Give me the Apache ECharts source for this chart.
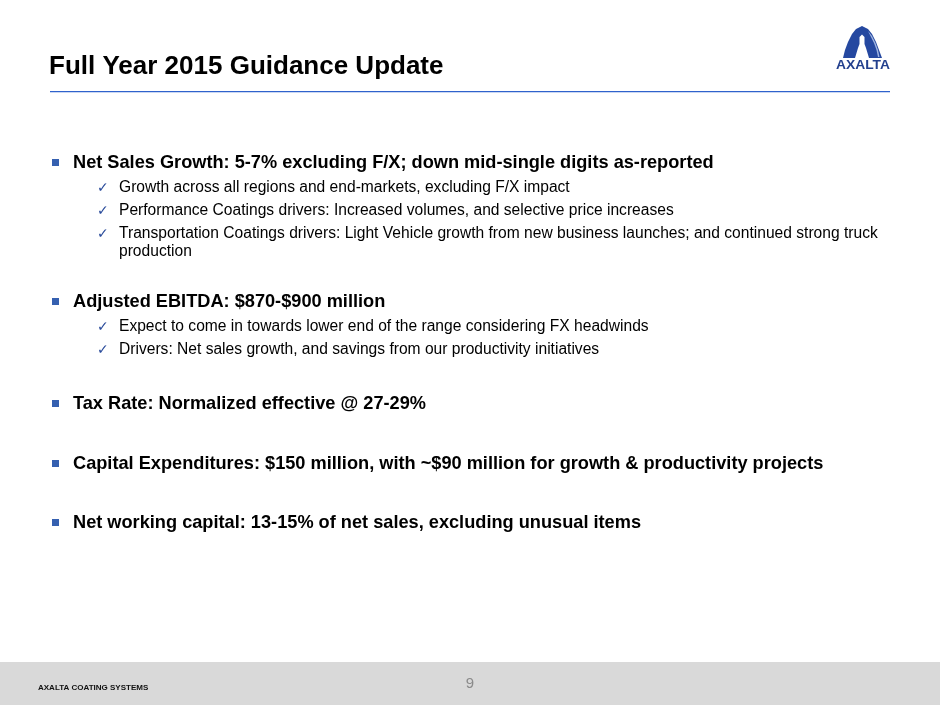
<!DOCTYPE html>
<html>
<head>
<meta charset="utf-8">
<title>Full Year 2015 Guidance Update</title>
<script src="https://cdn.jsdelivr.net/npm/echarts@6/dist/echarts.min.js"></script>
<style>
  html, body { margin: 0; padding: 0; background: #fff; }
  #main { width: 940px; height: 705px; }
</style>
</head>
<body>
<div id="main"></div>
<script>
// slide text
const title = 'Full Year 2015 Guidance Update';
const headings = [
  'Net Sales Growth: 5-7% excluding F/X; down mid-single digits as-reported',
  'Adjusted EBITDA: $870-$900 million',
  'Tax Rate: Normalized effective @ 27-29%',
  'Capital Expenditures: $150 million, with ~$90 million for growth & productivity projects',
  'Net working capital: 13-15% of net sales, excluding unusual items'
];
const netSalesItems = [
  'Growth across all regions and end-markets, excluding F/X impact',
  'Performance Coatings drivers: Increased volumes, and selective price increases',
  'Transportation Coatings drivers: Light Vehicle growth from new business launches; and continued strong truck\nproduction'
];
const ebitdaItems = [
  'Expect to come in towards lower end of the range considering FX headwinds',
  'Drivers: Net sales growth, and savings from our productivity initiatives'
];
const subItems = [netSalesItems, ebitdaItems, [], [], []];
const footerText = 'AXALTA COATING SYSTEMS';
const pageNumber = '9';
const logoText = 'AXALTA';

// layout
const headingY = [163, 302, 404, 464, 523];
const blue = '#2b4c9b';
const font = '"Liberation Sans", Arial, Helvetica, sans-serif';

const chart = echarts.init(document.getElementById('main'));
const elements = [];

// title and rule
elements.push({
  type: 'text', x: 49, y: 67,
  style: { text: title, font: 'bold 26px ' + font, fill: '#000', verticalAlign: 'middle' }
});
elements.push({
  type: 'rect',
  shape: { x: 50, y: 91, width: 840, height: 1.3 },
  style: { fill: '#2f62cc' }
});

// logo
elements.push({
  type: 'polygon',
  shape: {
    points: [[843, 58], [845, 50], [848, 42], [852, 34], [856, 29], [862, 26], [868, 29],
      [872, 34], [876, 42], [879, 50], [882, 58], [869, 58], [866, 48], [864.5, 44], [864.5, 37],
      [862, 34.5], [859.5, 37], [859.5, 44], [858, 48], [855, 58]]
  },
  style: { fill: '#2548a0' }
});
elements.push({
  type: 'polygon',
  shape: {
    points: [[868, 31], [872, 36], [875.5, 43], [878, 50], [879.5, 57], [878, 57], [876.5, 50], [874, 43], [870.5, 36]]
  },
  style: { fill: '#9fb4e0' }
});
elements.push({
  type: 'text', x: 863, y: 66,
  scaleX: 1.15,
  style: {
    text: logoText, font: 'bold 12px ' + font, fill: '#23408e',
    align: 'center', verticalAlign: 'middle'
  }
});

// bullets
headings.forEach(function (h, i) {
  const y = headingY[i];
  elements.push({
    type: 'rect',
    shape: { x: 52, y: y - 4, width: 7, height: 7 },
    style: { fill: '#3560b0' }
  });
  elements.push({
    type: 'text', x: 73, y: y,
    style: { text: h, font: 'bold 18.2px ' + font, fill: '#000', verticalAlign: 'middle' }
  });
  let sy = y + 25;
  subItems[i].forEach(function (s) {
    elements.push({
      type: 'text', x: 97, y: sy,
      style: { text: '\u2713', font: '14px "DejaVu Sans", sans-serif', fill: blue, verticalAlign: 'middle' }
    });
    elements.push({
      type: 'text', x: 119, y: sy - 9,
      style: { text: s, font: '15.6px ' + font, fill: '#000', lineHeight: 18, verticalAlign: 'top' }
    });
    sy += 23;
  });
});

// footer
elements.push({
  type: 'rect',
  shape: { x: 0, y: 662, width: 940, height: 43 },
  style: { fill: '#d9d9d9' }
});
elements.push({
  type: 'text', x: 38, y: 688,
  style: { text: footerText, font: 'bold 8px ' + font, fill: '#111', verticalAlign: 'middle' }
});
elements.push({
  type: 'text', x: 470, y: 684,
  style: { text: pageNumber, font: '15px ' + font, fill: '#8a8a8a', align: 'center', verticalAlign: 'middle' }
});

chart.setOption({
  animation: false,
  backgroundColor: '#fff',
  graphic: { elements: elements }
});
</script>
</body>
</html>
